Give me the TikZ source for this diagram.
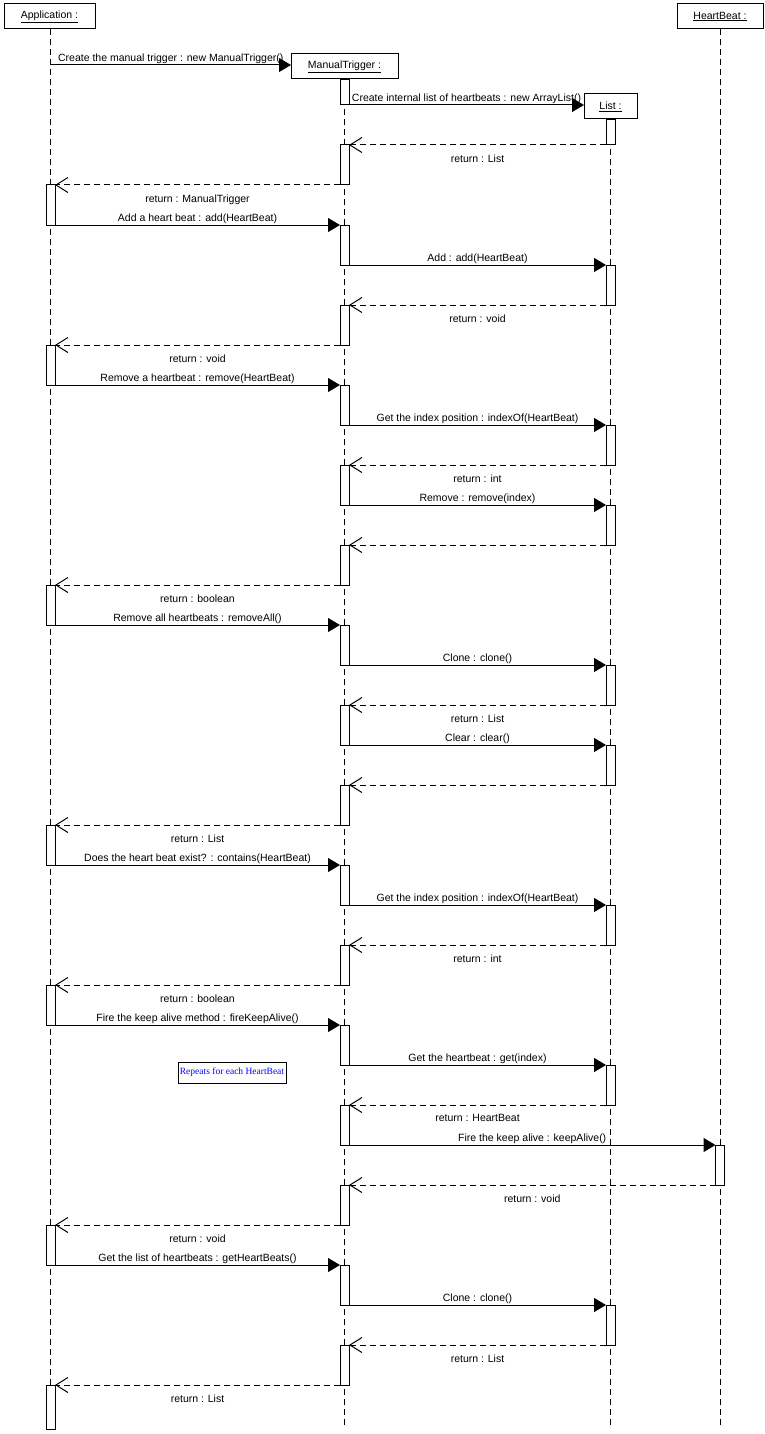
\documentclass[tikz,border=0pt]{standalone}
\usepackage{fontspec}
\setmainfont{Liberation Sans}
\newfontfamily\notefont{Liberation Serif}
\usetikzlibrary{arrows.meta}
\definecolor{noteblue}{RGB}{0,0,255}
\tikzset{
  head/.style={draw, line width=1pt, fill=white, minimum height=25pt, inner sep=0pt, outer sep=0pt, font=\fontsize{10.5}{12}\selectfont},
  actbar/.style={draw, line width=1pt, fill=white, minimum width=9pt, inner sep=0pt, outer sep=0pt, anchor=north},
  life/.style={line width=1pt, dash pattern=on 6pt off 4pt},
  sync/.style={line width=1pt, -{Triangle[length=12pt,width=14pt]}},
  ret/.style={line width=1pt, dash pattern=on 6pt off 4pt, -{Straight Barb[length=12pt,width=15pt,line width=1pt]}},
  mlab/.style={font=\fontsize{10.5}{12}\selectfont, inner sep=0.5pt, midway, above},
  rlab/.style={font=\fontsize{10.5}{12}\selectfont, inner sep=1pt, midway, below=8pt},
  note/.style={draw, line width=1pt, inner sep=1pt, minimum width=108pt, minimum height=21pt, text=noteblue, font=\notefont\fontsize{9.5}{11}\selectfont}
}
\newcommand\actb[4]{\node[actbar, minimum height=#4pt] (#1) at (#2,#3) {};}
\begin{document}
\begin{tikzpicture}[x=1pt,y=-1pt]
\useasboundingbox (0,0) rectangle (765,1434);
% heads
\node[head, minimum width=91pt] (app) at (49.5,16.5) {\underline{Application :}};
\node[head, minimum width=86pt] (hb) at (720,16.5) {\underline{HeartBeat :}};
\node[head, minimum width=107pt] (mt) at (344.5,66.5) {\underline{ManualTrigger :}};
\node[head, minimum width=53pt] (lst) at (610.5,106.5) {\underline{List :}};
% lifelines
\coordinate (append) at (50.5,1426);
\coordinate (mtend) at (344.5,1426);
\coordinate (lstend) at (610.5,1426);
\coordinate (hbend) at (720,1426);
\draw[life] (app.south -| append) -- (append);
\draw[life] (mt.south) -- (mtend);
\draw[life] (lst.south) -- (lstend);
\draw[life] (hb.south) -- (hbend);
% activation bars
\actb{a1}{50.5}{185}{40}
\actb{a2}{50.5}{345}{40}
\actb{a3}{50.5}{585}{40}
\actb{a4}{50.5}{825}{40}
\actb{a5}{50.5}{985}{40}
\actb{a6}{50.5}{1225}{40}
\actb{a7}{50.5}{1385}{44}
\actb{m0}{344.5}{80}{25}
\actb{m1}{344.5}{145}{40}
\actb{m2}{344.5}{225}{40}
\actb{m3}{344.5}{305}{40}
\actb{m4}{344.5}{385}{40}
\actb{m5}{344.5}{465}{40}
\actb{m6}{344.5}{545}{40}
\actb{m7}{344.5}{625}{40}
\actb{m8}{344.5}{705}{40}
\actb{m9}{344.5}{785}{40}
\actb{m10}{344.5}{865}{40}
\actb{m11}{344.5}{945}{40}
\actb{m12}{344.5}{1025}{40}
\actb{m13}{344.5}{1105}{40}
\actb{m14}{344.5}{1185}{40}
\actb{m15}{344.5}{1265}{40}
\actb{m16}{344.5}{1345}{40}
\actb{l0}{610.5}{120}{25}
\actb{l1}{610.5}{265}{40}
\actb{l2}{610.5}{425}{40}
\actb{l3}{610.5}{505}{40}
\actb{l4}{610.5}{665}{40}
\actb{l5}{610.5}{745}{40}
\actb{l6}{610.5}{905}{40}
\actb{l7}{610.5}{1065}{40}
\actb{l8}{610.5}{1305}{40}
\actb{h1}{720}{1145}{40}
% note
\node[note] (nt) at (232,1072.5) {Repeats for each HeartBeat};
% messages
\coordinate (s0) at (50.5,65);
\draw[sync] (s0) -- (s0 -| mt.west) node[mlab] {Create the manual trigger : new ManualTrigger()};
\draw[sync] (m0.south east) -- (m0.south east -| lst.west) node[mlab] {Create internal list of heartbeats : new ArrayList()};
\draw[ret] (l0.south west) -- (m1.north east) node[rlab] {return : List};
\draw[ret] (m1.south west) -- (a1.north east) node[rlab] {return : ManualTrigger};
\draw[sync] (a1.south east) -- (m2.north west) node[mlab] {Add a heart beat : add(HeartBeat)};
\draw[sync] (m2.south east) -- (l1.north west) node[mlab] {Add : add(HeartBeat)};
\draw[ret] (l1.south west) -- (m3.north east) node[rlab] {return : void};
\draw[ret] (m3.south west) -- (a2.north east) node[rlab] {return : void};
\draw[sync] (a2.south east) -- (m4.north west) node[mlab] {Remove a heartbeat : remove(HeartBeat)};
\draw[sync] (m4.south east) -- (l2.north west) node[mlab] {Get the index position : indexOf(HeartBeat)};
\draw[ret] (l2.south west) -- (m5.north east) node[rlab] {return : int};
\draw[sync] (m5.south east) -- (l3.north west) node[mlab] {Remove : remove(index)};
\draw[ret] (l3.south west) -- (m6.north east);
\draw[ret] (m6.south west) -- (a3.north east) node[rlab] {return : boolean};
\draw[sync] (a3.south east) -- (m7.north west) node[mlab] {Remove all heartbeats : removeAll()};
\draw[sync] (m7.south east) -- (l4.north west) node[mlab] {Clone : clone()};
\draw[ret] (l4.south west) -- (m8.north east) node[rlab] {return : List};
\draw[sync] (m8.south east) -- (l5.north west) node[mlab] {Clear : clear()};
\draw[ret] (l5.south west) -- (m9.north east);
\draw[ret] (m9.south west) -- (a4.north east) node[rlab] {return : List};
\draw[sync] (a4.south east) -- (m10.north west) node[mlab] {Does the heart beat exist? : contains(HeartBeat)};
\draw[sync] (m10.south east) -- (l6.north west) node[mlab] {Get the index position : indexOf(HeartBeat)};
\draw[ret] (l6.south west) -- (m11.north east) node[rlab] {return : int};
\draw[ret] (m11.south west) -- (a5.north east) node[rlab] {return : boolean};
\draw[sync] (a5.south east) -- (m12.north west) node[mlab] {Fire the keep alive method : fireKeepAlive()};
\draw[sync] (m12.south east) -- (l7.north west) node[mlab] {Get the heartbeat : get(index)};
\draw[ret] (l7.south west) -- (m13.north east) node[rlab] {return : HeartBeat};
\draw[sync] (m13.south east) -- (h1.north west) node[mlab] {Fire the keep alive : keepAlive()};
\draw[ret] (h1.south west) -- (m14.north east) node[rlab] {return : void};
\draw[ret] (m14.south west) -- (a6.north east) node[rlab] {return : void};
\draw[sync] (a6.south east) -- (m15.north west) node[mlab] {Get the list of heartbeats : getHeartBeats()};
\draw[sync] (m15.south east) -- (l8.north west) node[mlab] {Clone : clone()};
\draw[ret] (l8.south west) -- (m16.north east) node[rlab] {return : List};
\draw[ret] (m16.south west) -- (a7.north east) node[rlab] {return : List};
\end{tikzpicture}
\end{document}
